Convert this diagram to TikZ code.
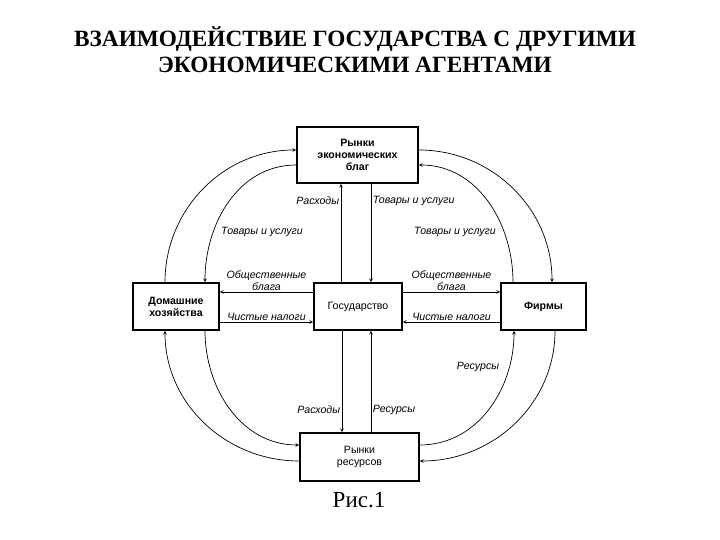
\documentclass[tikz,border=0pt]{standalone}
\usepackage{fontspec}
\setmainfont{Liberation Serif}
\setsansfont{Liberation Sans}
\usetikzlibrary{calc}
\tikzset{
	agent/.style={draw, line width=1.6pt, align=center, inner sep=0pt,
		font=\sffamily\bfseries\fontsize{10.6}{12}\selectfont},
	flow/.style={->, line width=0.7pt},
	lbl/.style={font=\sffamily\itshape\fontsize{10.6}{12}\selectfont, align=center, inner sep=1.5pt}
}
\begin{document}
\begin{tikzpicture}[>=stealth, x=1pt, y=1pt]
		\useasboundingbox (0,0) rectangle (720,540);
		% title
		\node (T) at (355,487) {\fontsize{23.3}{26}\selectfont\bfseries\begin{tabular}{c}ВЗАИМОДЕЙСТВИЕ ГОСУДАРСТВА С ДРУГИМИ\\ЭКОНОМИЧЕСКИМИ АГЕНТАМИ\end{tabular}};
		% agents
		\node[agent, minimum width=121, minimum height=56] (M) at (357.5,385) {Рынки\\экономических\\благ};
		\node[agent, minimum width=86, minimum height=47] (H) at (176,233.5) {Домашние\\хозяйства};
		\node[agent, minimum width=88, minimum height=47, font=\sffamily\fontsize{10.6}{12}\selectfont] (G) at (358,233.5) {Государство};
		\node[agent, minimum width=85, minimum height=47] (F) at (543.5,233.5) {Фирмы};
		\node[agent, minimum width=119, minimum height=48, font=\sffamily\fontsize{10.6}{12}\selectfont] (R) at (359.5,83) {Рынки\\ресурсов};
		\node (C) at (359,40) {\fontsize{23}{26}\selectfont Рис.1};
		% vertical flows
		\draw[flow] ([xshift=-17]G.north) -- ([xshift=-17]G.north |- M.south) node[lbl, left, pos=0.83] {Расходы};
		\draw[flow] ([xshift=13]G.north |- M.south) -- ([xshift=13]G.north) node[lbl, right, pos=0.17] {Товары и услуги};
		\draw[flow] ([xshift=-16]G.south) -- ([xshift=-16]G.south |- R.north) node[lbl, left, pos=0.78] {Расходы};
		\draw[flow] ([xshift=13]G.south |- R.north) -- ([xshift=13]G.south) node[lbl, right, pos=0.22] {Ресурсы};
		% horizontal flows
		\draw[flow] ([yshift=14.5]G.west) -- ([yshift=14.5]G.west -| H.east) node[lbl, above, midway] {Общественные\\блага};
		\draw[flow] ([yshift=14.5]G.east) -- ([yshift=14.5]G.east -| F.west) node[lbl, above, midway] {Общественные\\блага};
		\draw[flow] ([yshift=-15.5]G.west -| H.east) -- ([yshift=-15.5]G.west) node[lbl, above, midway] {Чистые налоги};
		\draw[flow] ([yshift=-15.5]G.east -| F.west) -- ([yshift=-15.5]G.east) node[lbl, above, midway] {Чистые налоги};
		% arcs
		\draw[flow] ([xshift=-11]H.north) to[out=90, in=180] ([yshift=5]M.west);
		\draw[flow] ([yshift=-10]M.west) to[out=180, in=90] ([xshift=29]H.north);
		\draw[flow] ([yshift=5]M.east) to[out=0, in=90] ([xshift=8.5]F.north);
		\draw[flow] ([xshift=-30.5]F.north) to[out=90, in=0] ([yshift=-10]M.east);
		\draw[flow] ([yshift=-4]R.west) to[out=180, in=-90] ([xshift=-11]H.south);
		\draw[flow] ([xshift=29]H.south) to[out=-90, in=180] ([yshift=12]R.west);
		\draw[flow] ([yshift=12]R.east) to[out=0, in=-90] ([xshift=-29.5]F.south);
		\draw[flow] ([xshift=11.5]F.south) to[out=-90, in=0] ([yshift=-4]R.east);
		\node[lbl] (gl) at (262,308) {Товары и услуги};
		\node[lbl] (gr) at (455,308) {Товары и услуги};
		\node[lbl] (rr) at (478,173) {Ресурсы};
	\end{tikzpicture}
\end{document}
